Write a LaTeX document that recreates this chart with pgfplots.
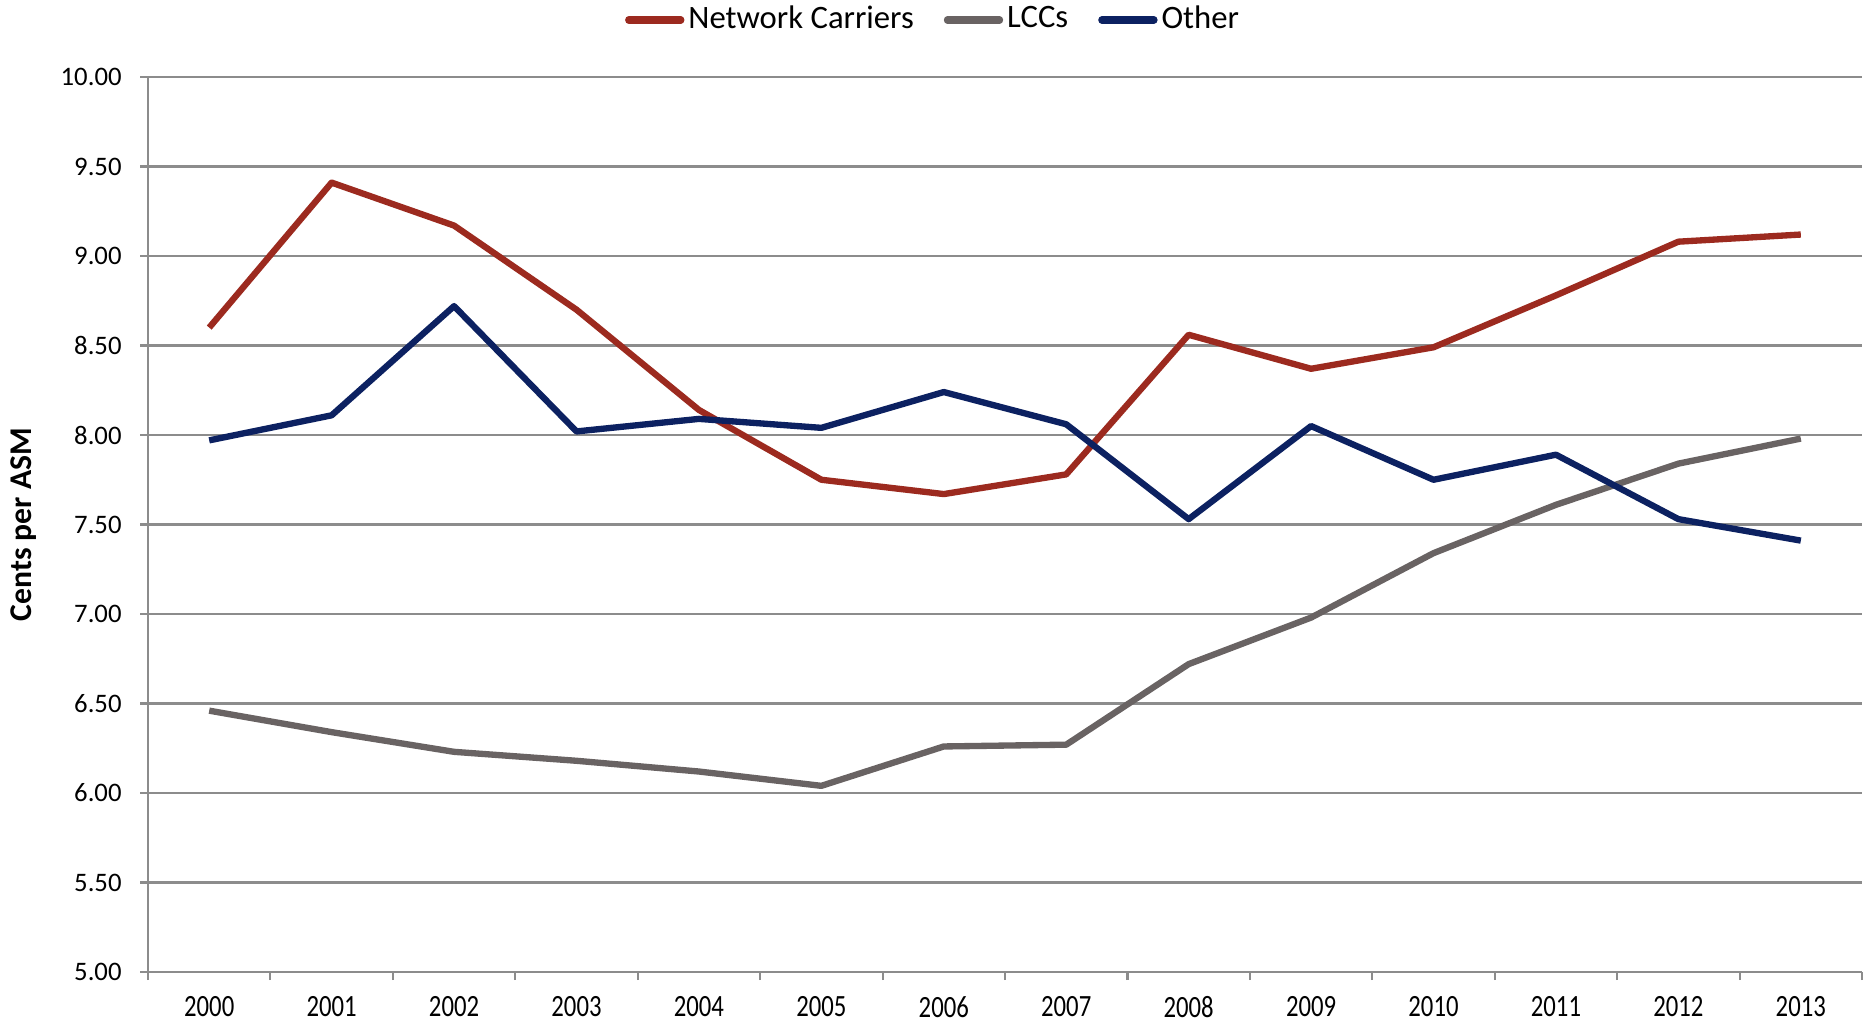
\documentclass[border=0pt]{standalone}
\usepackage{pgfplots}
\pgfplotsset{compat=1.18}
\usepackage{fontspec}
\setmainfont{Carlito}
\definecolor{netred}{RGB}{156,42,31}
\definecolor{lccgray}{RGB}{105,99,99}
\definecolor{othnavy}{RGB}{12,33,97}
\definecolor{axgray}{RGB}{140,140,140}

\pgfplotstableread{
idx year net lcc oth
0 2000 8.60 6.46 7.97
1 2001 9.41 6.34 8.11
2 2002 9.17 6.23 8.72
3 2003 8.70 6.18 8.02
4 2004 8.14 6.12 8.09
5 2005 7.75 6.04 8.04
6 2006 7.67 6.26 8.24
7 2007 7.78 6.27 8.06
8 2008 8.56 6.72 7.53
9 2009 8.37 6.98 8.05
10 2010 8.49 7.34 7.75
11 2011 8.78 7.61 7.89
12 2012 9.08 7.84 7.53
13 2013 9.12 7.98 7.41
}\costdata

\newcommand{\xl}[1]{\scalebox{0.8}[1]{#1}}

\begin{document}
\begin{tikzpicture}
\useasboundingbox (0,0) rectangle (18.66cm,10.22cm);
\begin{axis}[
  at={(1.48cm,0.50cm)}, anchor=south west,
  scale only axis,
  width=17.14cm, height=8.95cm,
  xmin=-0.5, xmax=13.5,
  ymin=5, ymax=10,
  ytick={5,5.5,...,10},
  xtick={-0.5,0.5,...,13.5},
  x tick label as interval,
  xticklabels={\xl{2000},\xl{2001},\xl{2002},\xl{2003},\xl{2004},\xl{2005},\xl{2006},\xl{2007},\xl{2008},\xl{2009},\xl{2010},\xl{2011},\xl{2012},\xl{2013}},
  axis x line*=bottom, axis y line*=left,
  axis line style={-, draw=axgray, line width=0.6pt},
  tick align=outside,
  major tick length=0.8mm,
  tick style={draw=axgray, line width=0.6pt},
  ymajorgrids,
  grid style={draw=axgray, line width=0.6pt},
  /pgf/number format/assume math mode=true,
  yticklabel style={/pgf/number format/fixed, /pgf/number format/precision=2, /pgf/number format/fixed zerofill, font=\fontsize{7.6}{8}\selectfont, xshift=-0.6mm},
  xticklabel style={font=\fontsize{8.8}{9}\selectfont, anchor=center, yshift=-2.7mm},
  ylabel={\textbf{Cents per ASM}},
  ylabel style={font=\fontsize{9}{10}\selectfont, at={(axis description cs:-0.0723,0.5)}, anchor=center, rotate=0},
  legend columns=3,
  legend style={draw=none, fill=none, at={(axis description cs:0.4586,1.0637)}, anchor=center,
    font=\fontsize{9.3}{10}\selectfont, nodes={inner sep=0.4mm}},
  /tikz/every even column/.append style={column sep=2.6mm},
  legend image code/.code={\draw[#1, line width=2.1pt, line cap=round] (0cm,0cm) -- (0.52cm,0cm);},
  every axis plot/.append style={line width=1.8pt, line join=round},
]
\addplot[netred, no markers] table[x=idx, y=net] {\costdata};
\addlegendentry{Network Carriers}
\addplot[lccgray, no markers] table[x=idx, y=lcc] {\costdata};
\addlegendentry{LCCs}
\addplot[othnavy, no markers] table[x=idx, y=oth] {\costdata};
\addlegendentry{Other}
\end{axis}
\end{tikzpicture}
\end{document}
